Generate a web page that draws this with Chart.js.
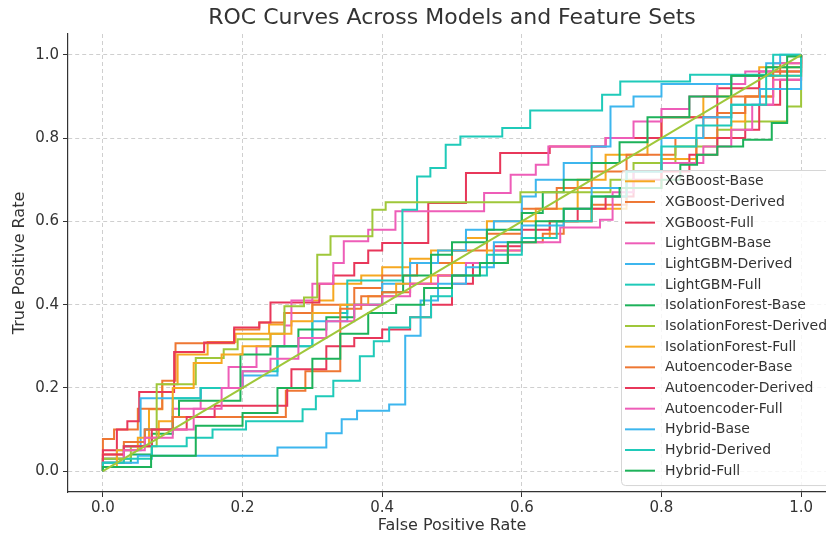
<!DOCTYPE html>
<html>
<head>
<meta charset="utf-8">
<script src="https://cdn.jsdelivr.net/npm/chart.js@4.4.1/dist/chart.umd.min.js"></script>
<style>
  html, body { margin: 0; padding: 0; background: #fff; overflow: hidden; }
  #wrap { width: 826px; height: 537px; overflow: hidden; position: relative; }
  canvas { display: block; }
</style>
</head>
<body>
<div id="wrap"><canvas id="rocChart" width="840" height="537"></canvas></div>
<script>
// Series names (legend order)
const seriesNames = [
    'XGBoost-Base', 'XGBoost-Derived', 'XGBoost-Full',
    'LightGBM-Base', 'LightGBM-Derived', 'LightGBM-Full',
    'IsolationForest-Base', 'IsolationForest-Derived', 'IsolationForest-Full',
    'Autoencoder-Base', 'Autoencoder-Derived', 'Autoencoder-Full',
    'Hybrid-Base', 'Hybrid-Derived', 'Hybrid-Full'
];

// ROC corner points [fpr, tpr]
const xgboostBase = [[0,0],[0,0.03],[0.03,0.06],[0.066,0.149],[0.085,0.209],[0.107,0.28],[0.15,0.31],[0.19,0.33],[0.238,0.352],[0.26,0.38],[0.3,0.41],[0.33,0.45],[0.37,0.47],[0.4,0.49],[0.44,0.51],[0.47,0.53],[0.52,0.56],[0.55,0.6],[0.62,0.63],[0.68,0.7],[0.72,0.76],[0.78,0.8],[0.8,0.85],[0.86,0.9],[0.9,0.95],[0.94,0.97],[1,1]];
const xgboostDerived = [[0,0],[0,0.077],[0.016,0.1],[0.05,0.15],[0.085,0.217],[0.104,0.307],[0.188,0.34],[0.224,0.357],[0.26,0.38],[0.3,0.4],[0.36,0.44],[0.4,0.47],[0.45,0.5],[0.5,0.53],[0.55,0.57],[0.6,0.63],[0.65,0.68],[0.7,0.72],[0.75,0.76],[0.82,0.8],[0.86,0.85],[0.9,0.9],[0.94,0.95],[0.97,0.98],[1,1]];
const xgboostFull = [[0,0],[0,0.05],[0.02,0.1],[0.035,0.12],[0.052,0.19],[0.102,0.286],[0.145,0.309],[0.188,0.345],[0.224,0.357],[0.24,0.405],[0.31,0.45],[0.33,0.47],[0.36,0.5],[0.38,0.53],[0.4,0.548],[0.466,0.644],[0.52,0.716],[0.569,0.764],[0.64,0.78],[0.72,0.8],[0.8,0.85],[0.88,0.92],[0.94,0.96],[1,1]];
const lightgbmBase = [[0,0],[0,0.03],[0.03,0.06],[0.06,0.1],[0.1,0.15],[0.14,0.2],[0.18,0.25],[0.22,0.3],[0.26,0.35],[0.27,0.41],[0.3,0.45],[0.33,0.5],[0.345,0.552],[0.38,0.58],[0.419,0.624],[0.546,0.668],[0.584,0.712],[0.62,0.736],[0.638,0.78],[0.72,0.8],[0.76,0.84],[0.8,0.87],[0.84,0.9],[0.88,0.93],[0.92,0.96],[0.96,0.98],[1,1]];
const lightgbmDerived = [[0,0],[0,0.02],[0.02,0.05],[0.054,0.175],[0.14,0.2],[0.2,0.23],[0.25,0.3],[0.3,0.36],[0.35,0.4],[0.4,0.45],[0.44,0.5],[0.48,0.53],[0.52,0.58],[0.56,0.6],[0.6,0.66],[0.62,0.7],[0.66,0.74],[0.7,0.78],[0.727,0.876],[0.76,0.9],[0.8,0.93],[0.9,0.95],[0.95,0.98],[0.97,1],[1,1]];
const lightgbmFull = [[0,0],[0,0.03],[0.03,0.06],[0.06,0.1],[0.1,0.175],[0.14,0.2],[0.2,0.24],[0.25,0.3],[0.3,0.38],[0.35,0.458],[0.429,0.628],[0.45,0.708],[0.469,0.728],[0.491,0.784],[0.512,0.804],[0.572,0.824],[0.612,0.866],[0.715,0.904],[0.741,0.936],[0.841,0.952],[0.96,1],[1,1]];
const isoForestBase = [[0,0],[0,0.02],[0.04,0.04],[0.07,0.09],[0.1,0.13],[0.109,0.169],[0.197,0.28],[0.24,0.3],[0.28,0.34],[0.32,0.37],[0.36,0.4],[0.4,0.43],[0.43,0.47],[0.47,0.52],[0.5,0.55],[0.55,0.58],[0.6,0.62],[0.63,0.67],[0.66,0.7],[0.7,0.74],[0.74,0.79],[0.78,0.85],[0.84,0.9],[0.9,0.95],[0.95,0.97],[1,1]];
const isoForestDerived = [[0,0],[0,0.03],[0.04,0.06],[0.077,0.209],[0.133,0.272],[0.173,0.293],[0.193,0.317],[0.24,0.33],[0.26,0.396],[0.288,0.417],[0.307,0.52],[0.326,0.564],[0.386,0.628],[0.405,0.646],[0.598,0.67],[0.727,0.7],[0.76,0.74],[0.82,0.78],[0.88,0.82],[0.92,0.84],[0.98,0.876],[1,0.897],[1,1]];
const isoForestFull = [[0,0],[0,0.01],[0.02,0.05],[0.05,0.08],[0.08,0.12],[0.1,0.2],[0.13,0.26],[0.17,0.28],[0.2,0.3],[0.24,0.33],[0.27,0.36],[0.3,0.38],[0.34,0.4],[0.38,0.42],[0.42,0.45],[0.47,0.47],[0.5,0.5],[0.55,0.53],[0.6,0.56],[0.64,0.6],[0.7,0.63],[0.75,0.72],[0.8,0.75],[0.85,0.8],[0.9,0.84],[0.92,0.9],[0.96,0.95],[1,1]];
const autoencoderBase = [[0,0],[0,0.04],[0.03,0.07],[0.06,0.1],[0.1,0.13],[0.262,0.193],[0.29,0.24],[0.34,0.39],[0.37,0.42],[0.4,0.43],[0.44,0.45],[0.48,0.47],[0.52,0.5],[0.58,0.55],[0.63,0.57],[0.66,0.6],[0.7,0.64],[0.75,0.68],[0.8,0.74],[0.85,0.8],[0.88,0.86],[0.92,0.9],[0.96,0.96],[1,1]];
const autoencoderDerived = [[0,0],[0,0.04],[0.03,0.06],[0.07,0.1],[0.12,0.13],[0.16,0.157],[0.264,0.2],[0.27,0.245],[0.32,0.3],[0.36,0.32],[0.4,0.34],[0.44,0.37],[0.47,0.4],[0.5,0.45],[0.53,0.5],[0.56,0.54],[0.6,0.58],[0.64,0.6],[0.68,0.63],[0.72,0.66],[0.76,0.7],[0.8,0.72],[0.84,0.76],[0.88,0.8],[0.92,0.82],[0.94,0.88],[0.97,0.94],[1,1]];
const autoencoderFull = [[0,0],[0,0.02],[0.03,0.05],[0.06,0.08],[0.1,0.1],[0.13,0.15],[0.17,0.2],[0.2,0.24],[0.24,0.27],[0.28,0.32],[0.32,0.36],[0.36,0.4],[0.4,0.42],[0.44,0.45],[0.48,0.47],[0.52,0.5],[0.56,0.53],[0.6,0.55],[0.655,0.585],[0.712,0.604],[0.73,0.67],[0.76,0.72],[0.8,0.74],[0.86,0.78],[0.9,0.82],[0.93,0.88],[0.96,0.94],[1,1]];
const hybridBase = [[0,0],[0,0.02],[0.05,0.037],[0.25,0.057],[0.32,0.091],[0.342,0.125],[0.364,0.145],[0.41,0.16],[0.433,0.325],[0.455,0.41],[0.48,0.45],[0.52,0.49],[0.56,0.55],[0.6,0.59],[0.66,0.63],[0.7,0.68],[0.75,0.72],[0.8,0.8],[0.86,0.85],[0.9,0.88],[0.941,0.918],[1,1]];
const hybridDerived = [[0,0],[0,0.02],[0.03,0.03],[0.07,0.06],[0.12,0.08],[0.157,0.1],[0.205,0.12],[0.286,0.149],[0.305,0.18],[0.33,0.217],[0.368,0.276],[0.388,0.312],[0.41,0.345],[0.44,0.37],[0.47,0.42],[0.5,0.47],[0.55,0.52],[0.6,0.56],[0.65,0.6],[0.7,0.66],[0.75,0.72],[0.8,0.78],[0.85,0.83],[0.9,0.88],[0.95,0.95],[1,1]];
const hybridFull = [[0,0],[0,0.01],[0.069,0.037],[0.133,0.109],[0.2,0.14],[0.25,0.2],[0.3,0.27],[0.34,0.33],[0.38,0.38],[0.42,0.4],[0.46,0.44],[0.5,0.47],[0.54,0.5],[0.58,0.55],[0.62,0.6],[0.66,0.63],[0.7,0.66],[0.74,0.68],[0.8,0.7],[0.827,0.736],[0.851,0.76],[0.88,0.78],[0.917,0.796],[0.958,0.836],[0.98,0.996],[1,1]];
const chanceLine = [[0,0],[1,1]];

const tickValues = [0, 0.2, 0.4, 0.6, 0.8, 1.0];

const rocSeries = [
    xgboostBase, xgboostDerived, xgboostFull,
    lightgbmBase, lightgbmDerived, lightgbmFull,
    isoForestBase, isoForestDerived, isoForestFull,
    autoencoderBase, autoencoderDerived, autoencoderFull,
    hybridBase, hybridDerived, hybridFull
];

// colour cycle (8 colours, repeats)
const palette = ['#F6A821', '#EE7733', '#E8375A', '#EE5DB8', '#3DB6EE', '#1FCAB9', '#1DB25A', '#9FC73A'];

const datasets = rocSeries.map((pts, i) => ({
    label: seriesNames[i],
    data: pts.map(p => ({ x: p[0], y: p[1] })),
    borderColor: palette[i % palette.length],
    borderWidth: 2,
    pointRadius: 0,
    stepped: 'before',
    fill: false,
    order: 20 - i
}));
datasets.push({
    label: '',
    data: chanceLine.map(p => ({ x: p[0], y: p[1] })),
    borderColor: palette[15 % palette.length],
    borderWidth: 2,
    pointRadius: 0,
    fill: false,
    order: 1
});

// title + legend drawn like matplotlib
const mplExtras = {
    id: 'mplExtras',
    afterDraw(chart) {
        const ctx = chart.ctx;
        const area = chart.chartArea;
        ctx.save();
        ctx.fillStyle = '#333';
        ctx.font = '22px "DejaVu Sans"';
        ctx.textAlign = 'center';
        ctx.textBaseline = 'middle';
        ctx.fillText('ROC Curves Across Models and Feature Sets', (area.left + area.right) / 2, 18);

        // legend box
        const bx = 621, by = 170, bw = 240, rowH = 20.67;
        const bh = rowH * seriesNames.length + 5;
        ctx.fillStyle = 'rgba(255,255,255,0.8)';
        ctx.strokeStyle = '#d6d6d6';
        ctx.lineWidth = 1;
        ctx.beginPath();
        ctx.roundRect(bx + 0.5, by + 0.5, bw, bh, 4);
        ctx.fill();
        ctx.stroke();
        ctx.font = '14px "DejaVu Sans"';
        ctx.textAlign = 'left';
        seriesNames.forEach((name, i) => {
            const y = 181.3 + i * rowH;
            ctx.strokeStyle = palette[i % palette.length];
            ctx.lineWidth = 2;
            ctx.beginPath();
            ctx.moveTo(625, y);
            ctx.lineTo(655, y);
            ctx.stroke();
            ctx.fillStyle = '#333';
            ctx.fillText(name, 665, y + 0.5);
        });
        ctx.restore();
    }
};

const gridStyle = {
    color: '#cfcfcf',
    tickColor: '#333',
    tickLength: 5,
    tickBorderDash: [],
    tickWidth: 1
};
const borderStyle = { display: true, color: '#333', width: 1.2, dash: [4, 3] };

const ctx = document.getElementById('rocChart').getContext('2d');
const rocChart = new Chart(ctx, {
    type: 'line',
    data: { datasets: datasets },
    options: {
        responsive: false,
        animation: false,
        devicePixelRatio: 1,
        layout: { padding: { top: 34, right: 4, left: 0, bottom: 0 } },
        plugins: { legend: { display: false }, tooltip: { enabled: false } },
        scales: {
            x: {
                type: 'linear',
                min: -0.05,
                max: 1.05,
                grid: gridStyle,
                border: borderStyle,
                afterBuildTicks: s => { s.ticks = tickValues.map(v => ({ value: v })); },
                afterFit: s => { s.height = 45; },
                ticks: {
                    color: '#333',
                    padding: 2,
                    maxRotation: 0,
                    font: { family: 'DejaVu Sans', size: 15 },
                    callback: v => v.toFixed(1)
                },
                title: {
                    display: true,
                    text: 'False Positive Rate',
                    color: '#333',
                    font: { family: 'DejaVu Sans', size: 16 },
                    padding: { top: 0, bottom: 2 }
                }
            },
            y: {
                type: 'linear',
                min: -0.05,
                max: 1.05,
                grid: gridStyle,
                border: borderStyle,
                afterBuildTicks: s => { s.ticks = tickValues.map(v => ({ value: v })); },
                afterFit: s => { s.width = 68; },
                ticks: {
                    color: '#333',
                    padding: 4,
                    font: { family: 'DejaVu Sans', size: 15 },
                    callback: v => v.toFixed(1)
                },
                title: {
                    display: true,
                    text: 'True Positive Rate',
                    color: '#333',
                    font: { family: 'DejaVu Sans', size: 16 },
                    padding: { top: 10, bottom: 0 }
                }
            }
        }
    },
    plugins: [mplExtras]
});
</script>
</body>
</html>
